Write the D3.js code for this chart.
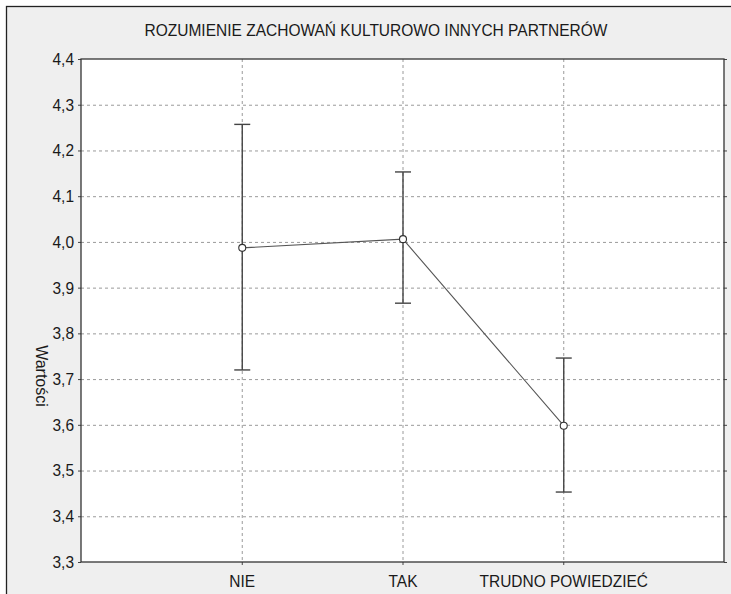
<!DOCTYPE html>
<html>
<head>
<meta charset="utf-8">
<script src="https://cdn.jsdelivr.net/npm/d3@7"></script>
<style>
  body { margin: 0; background: #fff; }
  svg text { font-family: "Liberation Sans", Arial, sans-serif; fill: #1a1a1a; }
</style>
</head>
<body>
<svg id="chart" width="731" height="594"></svg>
<script>
// Chart data
const categories = ['NIE', 'TAK', 'TRUDNO POWIEDZIEĆ'];
const means = [3.987, 4.006, 3.598];
const upper = [4.257, 4.153, 3.746];
const lower = [3.720, 3.866, 3.453];
const yTicks = [3.3, 3.4, 3.5, 3.6, 3.7, 3.8, 3.9, 4.0, 4.1, 4.2, 4.3, 4.4];

const title = 'ROZUMIENIE ZACHOWAŃ KULTUROWO INNYCH PARTNERÓW';
const yLabel = 'Wartości';

const svg = d3.select('#chart');
const W = 731, H = 594;
const margin = { top: 59, right: 7, bottom: 32, left: 81 };
const plotW = W - margin.left - margin.right;
const plotH = H - margin.top - margin.bottom;

// the font here is a bit wider than the original's narrow face
const squeeze = 0.91;

// outer panel
svg.append('rect')
    .attr('x', 6.5).attr('y', 6.5)
    .attr('width', W + 10).attr('height', H + 10)
    .attr('fill', '#efefef')
    .attr('stroke', '#222')
    .attr('stroke-width', 1.3);

svg.append('text')
    .attr('x', 376).attr('y', 36)
    .attr('text-anchor', 'middle')
    .attr('font-size', '17px')
    .attr('textLength', 463)
    .attr('lengthAdjust', 'spacingAndGlyphs')
    .text(title);

const g = svg.append('g')
    .attr('transform', `translate(${margin.left},${margin.top})`);

const x = d3.scalePoint()
    .domain(categories)
    .range([0, plotW])
    .padding(1);

const y = d3.scaleLinear()
    .domain([3.3, 4.4])
    .range([plotH, 0]);

g.append('rect')
    .attr('width', plotW).attr('height', plotH)
    .attr('fill', '#fff');

// grid lines
g.append('g')
    .selectAll('line')
    .data(yTicks.slice(1, -1))
    .join('line')
    .attr('x1', 0).attr('x2', plotW)
    .attr('y1', d => y(d) + 0.5).attr('y2', d => y(d) + 0.5)
    .attr('stroke', '#9a9a9a')
    .attr('stroke-dasharray', '3,3');

g.append('g')
    .selectAll('line')
    .data(categories)
    .join('line')
    .attr('x1', d => x(d) + 0.5).attr('x2', d => x(d) + 0.5)
    .attr('y1', 0).attr('y2', plotH)
    .attr('stroke', '#9a9a9a')
    .attr('stroke-dasharray', '3,3');

// axes
const fmt = d => d3.format('.1f')(d).replace('.', ',');

const yAxis = g.append('g')
    .call(d3.axisLeft(y).tickValues(yTicks).tickFormat(fmt).tickSize(3).tickPadding(4));
const yAxisR = g.append('g')
    .attr('transform', `translate(${plotW},0)`)
    .call(d3.axisRight(y).tickValues(yTicks).tickFormat('').tickSize(3));
const xAxis = g.append('g')
    .attr('transform', `translate(0,${plotH})`)
    .call(d3.axisBottom(x).tickSize(3).tickPadding(10));

[yAxis, yAxisR, xAxis].forEach(a => {
    a.select('.domain').remove();
    a.selectAll('line').attr('stroke', '#444');
    a.selectAll('text').attr('font-size', '17px').attr('fill', '#1a1a1a')
        .style('font-family', '"Liberation Sans", Arial, sans-serif');
});

// narrow the labels to the original's width
yAxis.selectAll('text').attr('lengthAdjust', 'spacingAndGlyphs')
    .attr('textLength', function() { return this.getComputedTextLength() * squeeze; });
xAxis.selectAll('text').attr('lengthAdjust', 'spacingAndGlyphs')
    .attr('textLength', function() { return this.getComputedTextLength() * squeeze; });

// plot frame
g.append('rect')
    .attr('width', plotW).attr('height', plotH)
    .attr('fill', 'none')
    .attr('stroke', '#333')
    .attr('stroke-width', 1.3);

// y label
svg.append('text')
    .attr('transform', 'translate(36,376) rotate(90)')
    .attr('text-anchor', 'middle')
    .attr('font-size', '16px')
    .text(yLabel);

// error bars
const bars = g.append('g');
categories.forEach((c, i) => {
    const cx = x(c) + 0.5;
    bars.append('line')
        .attr('x1', cx).attr('x2', cx)
        .attr('y1', y(upper[i])).attr('y2', y(lower[i]))
        .attr('stroke', '#444').attr('stroke-width', 1.4);
    [upper[i], lower[i]].forEach(v => {
        bars.append('line')
            .attr('x1', cx - 8).attr('x2', cx + 8)
            .attr('y1', y(v)).attr('y2', y(v))
            .attr('stroke', '#444').attr('stroke-width', 1.4);
    });
});

// mean line
const line = d3.line()
    .x((d, i) => x(categories[i]) + 0.5)
    .y(d => y(d));

g.append('path')
    .datum(means)
    .attr('d', line)
    .attr('fill', 'none')
    .attr('stroke', '#555')
    .attr('stroke-width', 1.1);

g.selectAll('.pt')
    .data(means)
    .join('circle')
    .attr('class', 'pt')
    .attr('cx', (d, i) => x(categories[i]) + 0.5)
    .attr('cy', d => y(d))
    .attr('r', 3.5)
    .attr('fill', '#fff')
    .attr('stroke', '#333')
    .attr('stroke-width', 1.1);
</script>
</body>
</html>
